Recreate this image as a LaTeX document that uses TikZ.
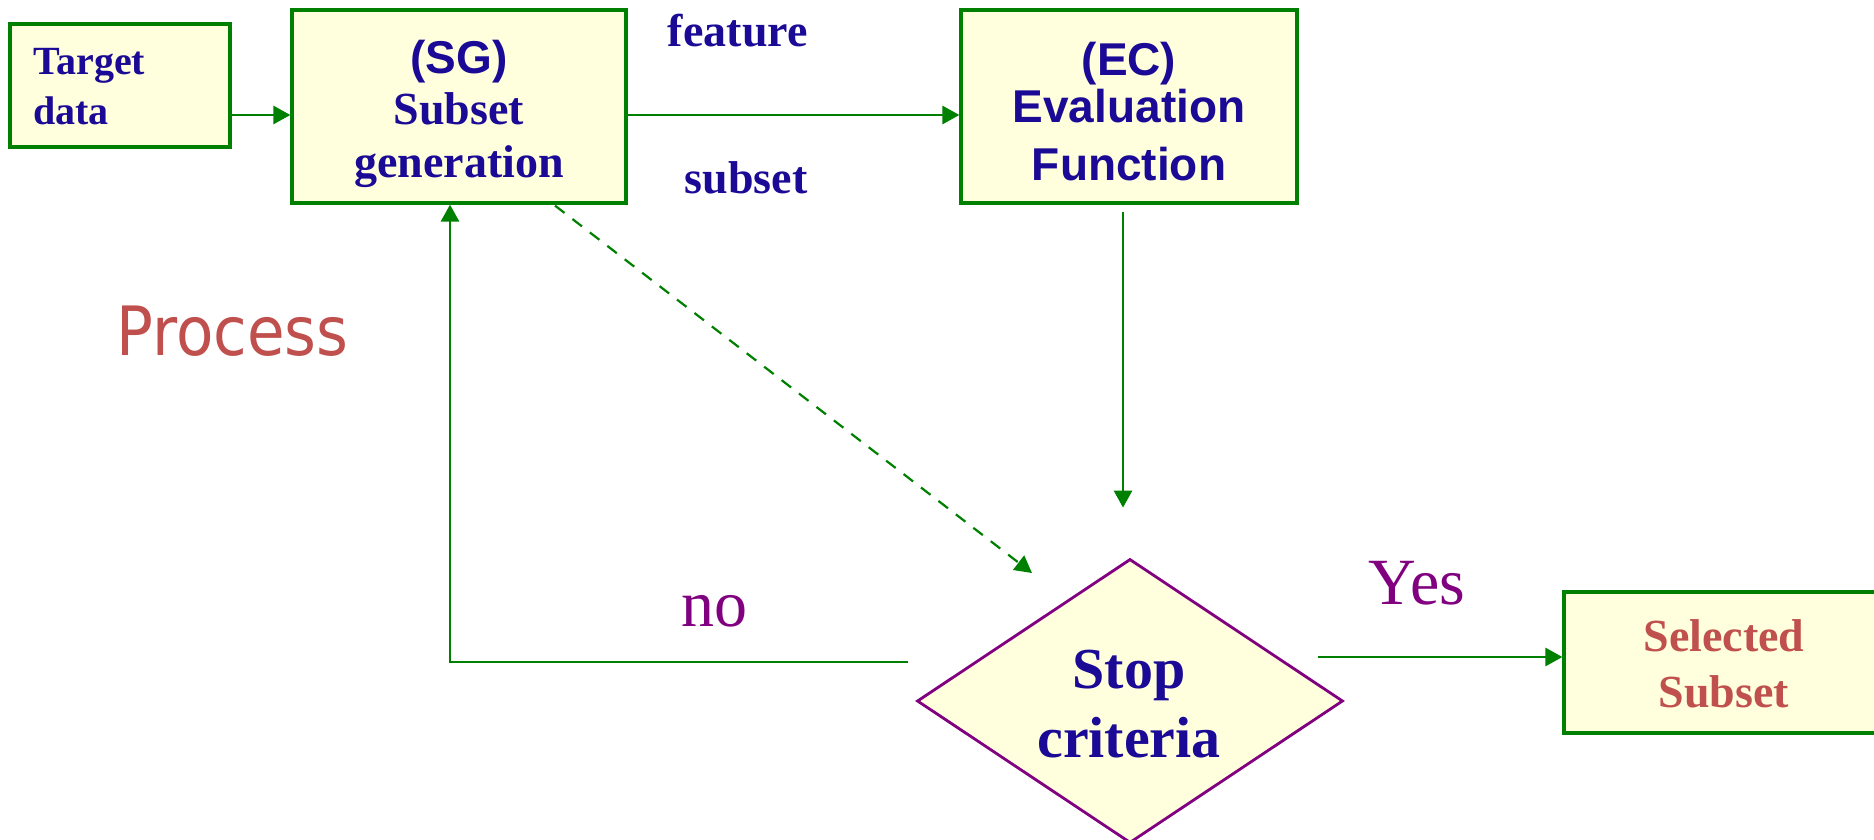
\documentclass[tikz,border=0pt]{standalone}
\usepackage{fontspec}
\setmainfont{Liberation Serif}
\newfontfamily\arialfont{Liberation Sans}
\newfontfamily\procfont[FakeStretch=0.9]{DejaVu Sans}
\usetikzlibrary{arrows.meta,shapes.geometric,calc}
\definecolor{inkblue}{RGB}{26,10,150}
\definecolor{boxfill}{RGB}{255,255,221}
\definecolor{flowgreen}{RGB}{0,128,0}
\definecolor{decpurple}{RGB}{128,0,128}
\definecolor{brick}{RGB}{192,80,77}

\begin{document}
\begin{tikzpicture}[x=0.5pt,y=-0.5pt,
  box/.style={draw=flowgreen, line width=1.6pt, fill=boxfill, inner sep=0pt},
  decision/.style={diamond, draw=decpurple, line width=1.4pt, fill=boxfill, inner sep=0pt},
  txt/.style={text=inkblue, inner sep=0pt},
  flow/.style={draw=flowgreen, line width=1.4pt, -{Triangle[length=8.5pt,width=9pt]}},
  dashflow/.style={draw=flowgreen, line width=1.1pt, dash pattern=on 6pt off 5pt,
    -{Triangle[length=8.5pt,width=9pt]}},
  answer/.style={text=decpurple, inner sep=0pt, font=\fontsize{33}{38}\selectfont},
]
\useasboundingbox (0,0) rectangle (1874,840);

% boxes
\node[box, minimum width=110pt, minimum height=61.5pt] (target) at (120,85.5) {};
\node[box, minimum width=167pt, minimum height=96.5pt] (sg) at (459,106.5) {};
\node[box, minimum width=168pt, minimum height=96.5pt] (ec) at (1129,106.5) {};
\node[decision, minimum width=213pt, minimum height=142pt] (stop) at (1130,701) {};
\node[box, minimum width=158pt, minimum height=70.5pt] (sel) at (1722,662.5) {};

% box texts (base anchor sits on the last line)
\node[txt, anchor=base west, align=left, font=\fontsize{20}{25}\selectfont\bfseries]
  (targettxt) at (33,125) {Target\\data};
\node[txt, anchor=base, align=center, font=\fontsize{23}{25}\selectfont\bfseries]
  (sgtxt) at (459,177) {{\arialfont (SG)}\\[0.5pt]Subset\\[1.5pt]generation};
\node[txt, anchor=base, align=center, font=\arialfont\fontsize{23}{25}\selectfont\bfseries]
  (ectxt) at (1129,180) {(EC)\\[-1pt]Evaluation\\[3.5pt]Function};
\node[txt, anchor=base, align=center, font=\fontsize{29}{34.5}\selectfont\bfseries]
  (stoptxt) at (1129,757) {Stop\\criteria};
\node[txt, text=brick, anchor=base, align=center, font=\fontsize{23}{28}\selectfont\bfseries]
  (seltxt) at (1724,707) {Selected\\Subset};

% edge labels
\node[txt, anchor=base east, font=\fontsize{23}{28}\selectfont\bfseries] (featurelbl) at (808,47) {feature};
\node[txt, anchor=base east, font=\fontsize{23}{28}\selectfont\bfseries] (subsetlbl) at (808,193) {subset};
\node[answer, anchor=base] (nolbl) at (714,626) {no};
\node[answer, anchor=base] (yeslbl) at (1417,604) {Yes};
\node[text=brick, inner sep=0pt, anchor=base west, font=\procfont\fontsize{34}{40}\selectfont]
  (proclbl) at (116,355) {Process};

% connector end points
\coordinate (row) at (0,115);
\coordinate (nostart) at (908,662);
\coordinate (yesstart) at (1318,657);
\coordinate (dashend) at (1032,573);

% connectors
\draw[flow] (target.east |- row) -- (sg.west |- row);
\draw[flow] (sg.east |- row) -- (ec.west |- row);
\draw[flow] ($(ec.south)+(-6,7)$) -- ($(stop.north)+(-7,-50)$);
\draw[flow] (nostart) -| ($(sg.south)+(-9,0)$);
\draw[flow] (yesstart) -- (yesstart -| sel.west);
\draw[dashflow] ($(sg.south)+(96,1)$) -- (dashend);
\end{tikzpicture}
\end{document}
